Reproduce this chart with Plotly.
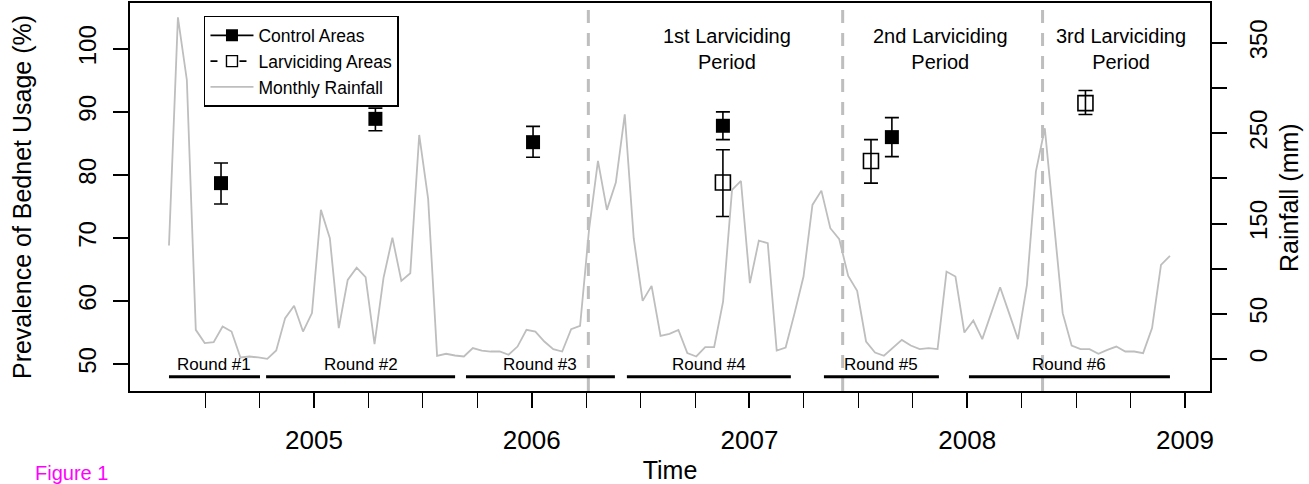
import plotly.graph_objects as go

# ---------------- data ----------------
# Bednet usage prevalence (%)
control_time = [2004.573, 2005.282, 2006.006, 2006.878, 2007.654]
control_val = [78.7, 88.9, 85.2, 87.8, 86.0]
control_hi = [81.9, 90.6, 87.7, 90.0, 89.1]
control_lo = [75.4, 87.0, 82.8, 85.6, 82.9]

larv_time = [2006.878, 2007.558, 2008.543]
larv_val = [78.8, 82.2, 91.4]
larv_hi = [84.0, 85.6, 93.4]
larv_lo = [73.4, 78.7, 89.6]

# Rainfall (mm), evenly spaced readings from start to end
rain_start = 2004.334
rain_end = 2008.931
rainfall = [125.7, 378.3, 309.0, 32.4, 17.7, 18.8, 36.1, 30.5, 1.8, 2.9,
            1.8, 0.3, 9.5, 45.4, 59.0, 30.5, 50.9, 165.2, 133.8, 34.3,
            87.7, 101.3, 90.7, 16.6, 89.6, 134.5, 86.6, 95.1, 248.1, 177.3,
            3.7, 5.9, 4.0, 2.9, 12.2, 9.5, 8.4, 8.4, 4.8, 13.9,
            32.4, 30.5, 19.5, 11.1, 8.4, 33.2, 36.8, 143.0, 219.4, 165.2,
            195.4, 271.0, 133.8, 64.5, 81.1, 25.8, 28.0, 32.4, 6.6, 2.9,
            13.3, 13.3, 63.7, 187.3, 197.2, 84.1, 131.2, 128.3, 9.5, 12.8,
            50.9, 91.4, 170.7, 186.5, 144.9, 132.7, 92.1, 75.6, 19.5, 7.3,
            3.7, 12.8, 21.3, 15.0, 11.1, 12.2, 11.1, 96.9, 91.4, 29.4,
            42.7, 22.1, 49.8, 79.6, 50.9, 22.1, 82.2, 207.5, 255.5, 153.3,
            50.9, 15.0, 11.1, 11.1, 5.9, 10.3, 13.9, 8.4, 8.4, 6.6,
            34.3, 104.3, 114.3]
n_rain = len(rainfall)
rain_time = [rain_start + i * (rain_end - rain_start) / (n_rain - 1) for i in range(n_rain)]

# survey rounds
round_labels = ["Round #1", "Round #2", "Round #3", "Round #4", "Round #5", "Round #6"]
round_start = [2004.334, 2004.780, 2005.698, 2006.437, 2007.342, 2008.008]
round_end = [2004.752, 2005.648, 2006.382, 2007.190, 2007.870, 2008.931]

# larviciding period starts and labels
period_start = [2006.260, 2007.428, 2008.346]
period_labels = ["1st Larviciding<br>Period", "2nd Larviciding<br>Period", "3rd Larviciding<br>Period"]
period_label_x = [2006.897, 2007.875, 2008.706]

year_ticks = [2005, 2006, 2007, 2008, 2009]
quarter_ticks = [2004.5, 2004.75, 2005.25, 2005.5, 2005.75, 2006.25, 2006.5, 2006.75,
                 2007.25, 2007.5, 2007.75, 2008.25, 2008.5, 2008.75]
left_ticks = [50, 60, 70, 80, 90, 100]
right_ticks = [0, 50, 100, 150, 200, 250, 300, 350]
right_ticktext = ["0", "50", "", "150", "", "250", "", "350"]

FONT = "Liberation Sans, Arial, Helvetica, sans-serif"
GRAY = "#BEBEBE"

fig = go.Figure()

# rainfall line (right axis)
fig.add_trace(go.Scatter(x=rain_time, y=rainfall, mode="lines", yaxis="y2",
                         line=dict(color=GRAY, width=1.8), showlegend=False))

# control areas
fig.add_trace(go.Scatter(
    x=control_time, y=control_val, mode="markers",
    marker=dict(symbol="square", size=14, color="black"),
    error_y=dict(type="data", symmetric=False,
                 array=[h - v for h, v in zip(control_hi, control_val)],
                 arrayminus=[v - l for v, l in zip(control_val, control_lo)],
                 color="black", thickness=1.6, width=7),
    showlegend=False))

# larviciding areas
fig.add_trace(go.Scatter(
    x=larv_time, y=larv_val, mode="markers",
    marker=dict(symbol="square-open", size=15, color="black", line=dict(width=1.6)),
    error_y=dict(type="data", symmetric=False,
                 array=[h - v for h, v in zip(larv_hi, larv_val)],
                 arrayminus=[v - l for v, l in zip(larv_val, larv_lo)],
                 color="black", thickness=1.6, width=7),
    showlegend=False))

# legend entries
fig.add_trace(go.Scatter(x=[None], y=[None], mode="lines+markers", name="Control Areas",
                         marker=dict(symbol="square", size=12, color="black"),
                         line=dict(color="black", width=1.6)))
fig.add_trace(go.Scatter(x=[None], y=[None], mode="lines+markers", name="Larviciding Areas",
                         marker=dict(symbol="square-open", size=11, color="black", line=dict(width=1.4)),
                         line=dict(color="black", width=1.6, dash="7px,22px")))
fig.add_trace(go.Scatter(x=[None], y=[None], mode="lines", name="Monthly Rainfall",
                         line=dict(color=GRAY, width=1.8)))

shapes = []
for xs in period_start:
    shapes.append(dict(type="line", xref="x", yref="paper", x0=xs, x1=xs, y0=0, y1=1,
                       line=dict(color=GRAY, width=3, dash="13px,10px"), layer="below"))
for a, b in zip(round_start, round_end):
    shapes.append(dict(type="line", xref="x", yref="y", x0=a, x1=b, y0=48, y1=48,
                       line=dict(color="black", width=3)))

annotations = []
for lab, a, b in zip(round_labels, round_start, round_end):
    annotations.append(dict(x=(a + b) / 2, y=50, xref="x", yref="y", text=lab,
                            showarrow=False, font=dict(family=FONT, size=17, color="black")))
for lab, xl in zip(period_labels, period_label_x):
    annotations.append(dict(x=xl, y=100, xref="x", yref="y", text=lab,
                            showarrow=False, font=dict(family=FONT, size=20, color="black")))
annotations.append(dict(x=-0.0898, y=-0.211, xref="paper", yref="paper", text="Figure 1",
                        xanchor="left", yanchor="middle", showarrow=False,
                        font=dict(family=FONT, size=20, color="#FF00FF")))
# right axis title
annotations.append(dict(x=1.0731, y=0.5, xref="paper", yref="paper", text="Rainfall (mm)",
                        textangle=-90, xanchor="center", yanchor="middle", showarrow=False,
                        font=dict(family=FONT, size=25, color="black")))

fig.update_layout(
    width=1309, height=484,
    margin=dict(l=130, r=99, t=3, b=93, autoexpand=False),
    paper_bgcolor="white", plot_bgcolor="white",
    font=dict(family=FONT, color="black"),
    shapes=shapes, annotations=annotations,
    legend=dict(x=0.0685, y=0.9665, xanchor="left", yanchor="top",
                bgcolor="white", bordercolor="black", borderwidth=1.5,
                font=dict(family=FONT, size=17.5, color="black"),
                itemwidth=43, tracegroupgap=0),
    xaxis=dict(range=[2004.155, 2009.115], showgrid=False, zeroline=False,
               showline=True, mirror=True, linecolor="black", linewidth=2,
               tickmode="array", tickvals=year_ticks, ticktext=[str(y) for y in year_ticks],
               ticks="outside", ticklen=15, tickwidth=2.2, tickcolor="black",
               ticklabelstandoff=10,
               tickfont=dict(family=FONT, size=26),
               minor=dict(tickmode="array", tickvals=quarter_ticks, ticks="outside",
                          ticklen=15, tickwidth=1.4, tickcolor="black", showgrid=False),
               title=dict(text="Time", font=dict(family=FONT, size=25), standoff=18)),
    yaxis=dict(range=[45.72, 107.28], showgrid=False, zeroline=False,
               showline=True, mirror=True, linecolor="black", linewidth=2,
               tickmode="array", tickvals=left_ticks,
               ticks="outside", ticklen=15, tickwidth=1.5, tickcolor="black",
               tickangle=-90, ticklabelstandoff=7,
               tickfont=dict(family=FONT, size=24),
               title=dict(text="Prevalence of Bednet Usage (%)", font=dict(family=FONT, size=25),
                          standoff=36)),
    yaxis2=dict(range=[-35.3, 394.2], overlaying="y", side="right", showgrid=False,
                zeroline=False, showline=False,
                tickmode="array", tickvals=right_ticks, ticktext=right_ticktext,
                ticks="outside", ticklen=16, tickwidth=1.5, tickcolor="black",
                tickangle=-90, ticklabelstandoff=11,
                tickfont=dict(family=FONT, size=24)),
)

fig.write_html("out.html", config={"displayModeBar": False},
               post_script="document.body.style.margin='0';document.body.style.overflow='hidden';")
